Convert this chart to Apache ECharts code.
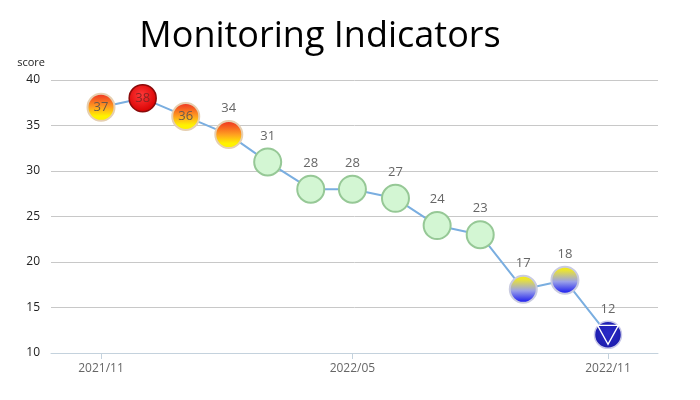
<!DOCTYPE html>
<html>
<head>
<meta charset="utf-8">
<script src="https://cdn.jsdelivr.net/npm/echarts@6/dist/echarts.min.js"></script>
<style>html,body{margin:0;padding:0;background:#fff}#c{width:700px;height:400px}</style>
</head>
<body>
<div id="c"></div>
<script>
var months = ['2021-11-01','2021-12-01','2022-01-01','2022-02-01','2022-03-01','2022-04-01','2022-05-01','2022-06-01','2022-07-01','2022-08-01','2022-09-01','2022-10-01','2022-11-01'];
var scores = [37, 38, 36, 34, 31, 28, 28, 27, 24, 23, 17, 18, 12];
var levels = ['warn','alert','warn','warn','ok','ok','ok','ok','ok','ok','low','low','critical'];
var tickMonths = ['2021-11-01','2022-05-01','2022-11-01'];
var yTicks = [10, 15, 20, 25, 30, 35, 40];

function ts(s) { return Date.parse(s + 'T00:00:00Z'); }

function lin(top, bottom, mid) {
  return new echarts.graphic.LinearGradient(0, 0, 0, 1, [
    {offset: 0, color: top}, {offset: 0.5, color: mid}, {offset: 0.8, color: bottom}, {offset: 1, color: bottom}
  ]);
}
var styles = {
  warn: {color: lin('#ee2a22', '#fff200', '#ffa020'), borderColor: '#e6cfb0', borderWidth: 2},
  alert: {color: new echarts.graphic.RadialGradient(0.45, 0.4, 0.6, [{offset: 0, color: '#ff3a3a'}, {offset: 1, color: '#d80000'}]), borderColor: '#8a0a0a', borderWidth: 1.5},
  ok: {color: '#d3f6d3', borderColor: '#96c896', borderWidth: 2},
  low: {color: new echarts.graphic.LinearGradient(0, 0, 0, 1, [{offset: 0, color: '#f8ee00'}, {offset: 0.15, color: '#ece530'}, {offset: 0.55, color: '#9aa0e8'}, {offset: 1, color: '#0a0af0'}]), borderColor: '#c9cbe0', borderWidth: 2},
  critical: {color: new echarts.graphic.RadialGradient(0.5, 0.45, 0.6, [{offset: 0, color: '#2a2ac8'}, {offset: 1, color: '#1a1aa8'}]), borderColor: '#c8c8e8', borderWidth: 1.5}
};

var lineData = months.map(function (m, i) {
  var inside = i < 3;
  return {
    value: [ts(m), scores[i]],
    itemStyle: styles[levels[i]],
    label: inside ? {position: 'inside', color: levels[i] === 'alert' ? '#8a2424' : '#6a5a4a'} : {position: 'top'}
  };
});
var triData = [];
months.forEach(function (m, i) { if (levels[i] === 'critical') triData.push([ts(m), scores[i]]); });

var chart = echarts.init(document.getElementById('c'));
chart.setOption({
  animation: false,
  title: {
    text: 'Monitoring Indicators',
    left: 315, top: 14, textAlign: 'center',
    textStyle: {fontFamily: 'Open Sans', fontSize: 36, fontWeight: 'normal', color: '#000'}
  },
  grid: {left: 51, right: 42, top: 80, bottom: 47},
  xAxis: {
    type: 'value',
    min: ts('2021-09-26'),
    max: ts('2022-12-07'),
    splitLine: {show: false},
    axisLine: {lineStyle: {color: '#c4d2dd', width: 1}},
    axisTick: {show: true, length: 6, lineStyle: {color: '#c4d2dd'}, customValues: tickMonths.map(ts)},
    axisLabel: {
      customValues: tickMonths.map(ts),
      color: '#666', fontSize: 12, margin: 10, fontFamily: 'Open Sans',
      formatter: function (v) { var d = new Date(v); var mm = d.getUTCMonth() + 1; return d.getUTCFullYear() + '/' + (mm < 10 ? '0' + mm : mm); }
    }
  },
  yAxis: {
    type: 'value',
    min: yTicks[0], max: yTicks[yTicks.length - 1], interval: 5,
    name: 'score',
    nameGap: 12,
    nameTextStyle: {color: '#222', fontSize: 11, fontFamily: 'Open Sans', align: 'right', padding: [0, 6, 0, 0]},
    axisLine: {show: false},
    axisTick: {show: false},
    axisLabel: {color: '#222', fontSize: 12, margin: 11, fontFamily: 'Open Sans'},
    splitLine: {lineStyle: {color: '#c8c8c8'}}
  },
  series: [{
    type: 'line',
    data: lineData,
    symbol: 'circle',
    symbolSize: 27,
    lineStyle: {color: '#7aaee0', width: 2},
    label: {show: true, color: '#666', fontSize: 13, distance: 5, fontFamily: 'Open Sans',
      formatter: function (p) { return p.value[1]; }},
    z: 2
  }, {
    type: 'scatter',
    data: triData,
    symbol: 'triangle',
    symbolRotate: 180,
    symbolSize: [21, 19],
    itemStyle: {color: 'rgba(0,0,0,0)', borderColor: '#ffffff', borderWidth: 1.3, opacity: 1},
    silent: true,
    z: 10
  }]
});
</script>
</body>
</html>
